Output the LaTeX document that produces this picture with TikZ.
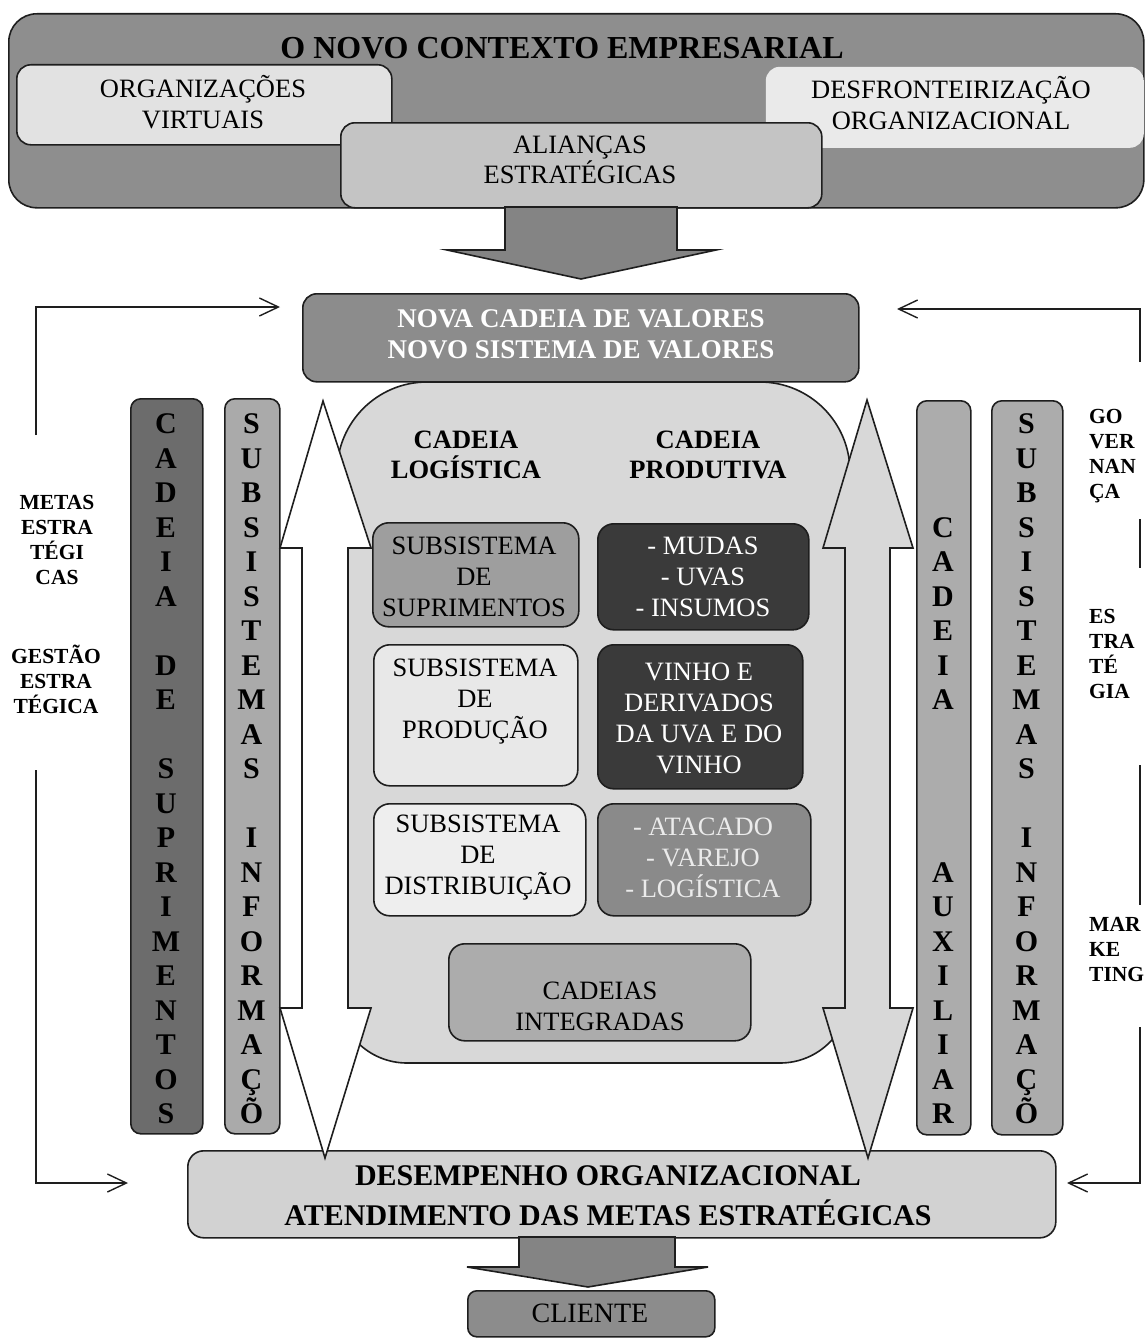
\documentclass[tikz,border=0pt]{standalone}
\usepackage{fontspec}
\setmainfont{Liberation Serif}
\usetikzlibrary{arrows.meta}

\definecolor{topgray}{RGB}{142,142,142}
\definecolor{orgfill}{RGB}{226,226,226}
\definecolor{desffill}{RGB}{234,234,234}
\definecolor{aliafill}{RGB}{196,196,196}
\definecolor{arrowfill}{RGB}{132,132,132}
\definecolor{novafill}{RGB}{140,140,140}
\definecolor{supcol}{RGB}{108,108,108}
\definecolor{infcol}{RGB}{170,170,170}
\definecolor{auxcol}{RGB}{172,172,172}
\definecolor{regionfill}{RGB}{216,216,216}
\definecolor{supfill}{RGB}{158,158,158}
\definecolor{darkfill}{RGB}{58,58,58}
\definecolor{prodfill}{RGB}{232,232,232}
\definecolor{distfill}{RGB}{238,238,238}
\definecolor{atacfill}{RGB}{138,138,138}
\definecolor{integfill}{RGB}{172,172,172}
\definecolor{despfill}{RGB}{210,210,210}
\definecolor{clifill}{RGB}{140,140,140}
\definecolor{edge}{RGB}{30,30,30}

\tikzset{
  panel/.style={draw=edge, line width=1.6pt, rounded corners=#1, anchor=north west, inner sep=0pt},
  panel/.default=12pt,
  txt/.style={align=center, inner sep=0pt, font=\fontsize{26.5}{30.5}\selectfont},
  boxtxt/.style={align=center, inner sep=0pt, font=\fontsize{26.5}{31}\selectfont},
  boldtxt/.style={align=center, inner sep=0pt, font=\fontsize{26.5}{29.5}\selectfont\bfseries},
  sidetxt/.style={inner sep=0pt, font=\fontsize{21.5}{25}\selectfont\bfseries},
  colletter/.style={anchor=base, inner sep=0pt, font=\fontsize{30}{30}\selectfont\bfseries},
  bigarrow/.style={draw=edge, line width=1.6pt, line join=miter},
  feedback/.style={draw=edge, line width=1.4pt},
  barb/.style={-{Straight Barb[length=19pt,width=18pt,line width=1.4pt]}},
}

\begin{document}
\begin{tikzpicture}[x=1pt,y=-1pt]
\useasboundingbox (0,0) rectangle (1146,1338);

% ---------- top block: the new business context ----------
\node[panel=28pt, fill=topgray, minimum width=1135pt, minimum height=194pt] (contexto) at (8,13) {};
\node[font=\fontsize{32}{32}\selectfont\bfseries, inner sep=0pt] (titulo) at (562,48) {O NOVO CONTEXTO EMPRESARIAL};

\node[panel=14pt, fill=orgfill, minimum width=375pt, minimum height=80pt] (orgbox) at (16,64) {};
\node[txt] (orgtxt) at (203,102) {ORGANIZAÇÕES\\VIRTUAIS};

\node[panel=14pt, draw=none, fill=desffill, minimum width=378pt, minimum height=81pt] (desfbox) at (765,66) {};
\node[txt] (desftxt) at (951,103) {DESFRONTEIRIZAÇÃO\\ORGANIZACIONAL};

\node[panel=14pt, fill=aliafill, minimum width=481pt, minimum height=85pt] (aliabox) at (340,122) {};
\node[txt] (aliatxt) at (580,160) {ALIANÇAS\\ESTRATÉGICAS};

% arrow into the new value chain
\draw[bigarrow, fill=arrowfill] (505,207) -- (677,207) -- (677,250) -- (716,250) -- (581,279)
  -- (447,250) -- (505,250) -- cycle;

\node[panel=14pt, fill=novafill, minimum width=556pt, minimum height=88pt] (nova) at (302,293) {};
\node[align=center, inner sep=0pt, text=white, font=\fontsize{27}{31}\selectfont\bfseries] (novatxt) at (581,334)
  {NOVA CADEIA DE VALORES\\NOVO SISTEMA DE VALORES};

% ---------- feedback loops ----------
\coordinate (lTop) at (36,435);
\coordinate (lCorner) at (36,307);
\coordinate (lEnd) at (280,307);
\coordinate (lBot) at (36,770);
\coordinate (lCorner2) at (36,1183);
\coordinate (lEnd2) at (128,1183);
\draw[feedback, barb] (lTop) -- (lCorner) -- (lEnd);
\draw[feedback, barb] (lBot) -- (lCorner2) -- (lEnd2);

\coordinate (rTop) at (1140,362);
\coordinate (rCorner) at (1140,309);
\coordinate (rEnd) at (897,309);
\coordinate (rS1a) at (1140,519);
\coordinate (rS1b) at (1140,568);
\coordinate (rS2a) at (1140,765);
\coordinate (rS2b) at (1140,905);
\coordinate (rBot) at (1140,1027);
\coordinate (rCorner2) at (1140,1183);
\coordinate (rEnd2) at (1067,1183);
\draw[feedback, barb] (rTop) -- (rCorner) -- (rEnd);
\draw[feedback] (rS1a) -- (rS1b);
\draw[feedback] (rS2a) -- (rS2b);
\draw[feedback, barb] (rBot) -- (rCorner2) -- (rEnd2);

\node[sidetxt, align=center] (metas) at (57,540) {METAS\\ESTRA\\TÉGI\\CAS};
\node[sidetxt, align=center] (gestao) at (56,679) {GESTÃO\\ESTRA\\TÉGICA};
\node[sidetxt, align=left, anchor=west] (gov) at (1089,456) {GO\\VER\\NAN\\ÇA};
\node[sidetxt, align=left, anchor=west] (estr) at (1089,654) {ES\\TRA\\TÉ\\GIA};
\node[sidetxt, align=left, anchor=west] (mkt) at (1089,949) {MAR\\KE\\TING};

% ---------- vertical columns ----------
\node[panel=10pt, fill=supcol, minimum width=72pt, minimum height=735pt] (colsup) at (130,398) {};
\node[panel=10pt, fill=infcol, minimum width=55pt, minimum height=735pt] (colinfL) at (224,398) {};
\node[panel=10pt, fill=auxcol, minimum width=54pt, minimum height=734pt] (colaux) at (916,400) {};
\node[panel=10pt, fill=auxcol, minimum width=71pt, minimum height=734pt] (colinfR) at (991,400) {};

\foreach \ch [count=\i from 0] in {C,A,D,E,I,A,{},D,E,{},S,U,P,R,I,M,E,N,T,O,S}
  \node[colletter] (sup-\i) at (166,{424+34.5*\i+9.9}) {\ch};
\foreach \ch [count=\i from 0] in {S,U,B,S,I,S,T,E,M,A,S,{},I,N,F,O,R,M,A,Ç,Õ}
  \node[colletter] (infL-\i) at (251.5,{424+34.5*\i+9.9}) {\ch};
\foreach \ch [count=\i from 0] in {{},{},{},C,A,D,E,I,A,{},{},{},{},A,U,X,I,L,I,A,R}
  \node[colletter] (aux-\i) at (943,{424+34.5*\i+9.9}) {\ch};
\foreach \ch [count=\i from 0] in {S,U,B,S,I,S,T,E,M,A,S,{},I,N,F,O,R,M,A,Ç,Õ}
  \node[colletter] (infR-\i) at (1026.5,{424+34.5*\i+9.9}) {\ch};

% ---------- central region ----------
\draw[draw=edge, line width=1.6pt, fill=regionfill]
  (337,993) -- (337,472) arc[start angle=180, end angle=90, radius=90pt]
  -- (760,382) arc[start angle=90, end angle=0, radius=90pt]
  -- (850,993) arc[start angle=0, end angle=-90, radius=70pt]
  -- (407,1063) arc[start angle=270, end angle=180, radius=70pt] -- cycle;

\node[panel=16pt, fill=despfill, minimum width=868pt, minimum height=87pt] (desemp) at (187,1150) {};
\node[align=center, inner sep=0pt, font=\fontsize{30}{40}\selectfont\bfseries] (desemptxt) at (608,1196)
  {DESEMPENHO ORGANIZACIONAL\\ATENDIMENTO DAS METAS ESTRATÉGICAS};

% double-headed flow arrows
\draw[bigarrow, fill=white] (323,401) -- (371,548) -- (348,548) -- (348,1008) -- (371,1008)
  -- (325,1158) -- (280,1008) -- (302,1008) -- (302,548) -- (280,548) -- cycle;
\draw[bigarrow, fill=regionfill] (867,400) -- (913,548) -- (890,548) -- (890,1008) -- (913,1008)
  -- (868,1158) -- (823,1008) -- (845,1008) -- (845,548) -- (823,548) -- cycle;

\node[boldtxt] (logist) at (466,455) {CADEIA\\LOGÍSTICA};
\node[boldtxt] (produt) at (708,455) {CADEIA\\PRODUTIVA};

\node[panel=16pt, fill=supfill, minimum width=206pt, minimum height=104pt] (supbox) at (372,522) {};
\node[boxtxt] (suptxt) at (474,577) {SUBSISTEMA\\DE\\SUPRIMENTOS};

\node[panel=16pt, fill=darkfill, minimum width=211pt, minimum height=106pt] (mudbox) at (597,523) {};
\node[boxtxt, text=white] (mudtxt) at (703,577) {- MUDAS\\- UVAS\\- INSUMOS};

\node[panel=16pt, fill=prodfill, minimum width=204pt, minimum height=141pt] (prodbox) at (373,644) {};
\node[boxtxt] (prodtxt) at (475,702) {SUBSISTEMA\\DE\\PRODUÇÃO};

\node[panel=16pt, fill=darkfill, minimum width=205pt, minimum height=144pt] (vinbox) at (597,644) {};
\node[boxtxt, text=white] (vintxt) at (699,718) {VINHO E\\DERIVADOS\\DA UVA E DO\\VINHO};

\node[panel=16pt, fill=distfill, minimum width=212pt, minimum height=112pt] (distbox) at (373,803) {};
\node[boxtxt] (disttxt) at (478,858) {SUBSISTEMA\\DE\\DISTRIBUIÇÃO};

\node[panel=16pt, fill=atacfill, minimum width=213pt, minimum height=112pt] (atacbox) at (597,803) {};
\node[boxtxt, text=white!92!black] (atactxt) at (703,858) {- ATACADO\\- VAREJO\\- LOGÍSTICA};

\node[panel=16pt, fill=integfill, minimum width=302pt, minimum height=97pt] (integbox) at (448,943) {};
\node[boxtxt] (integtxt) at (600,1006) {CADEIAS\\INTEGRADAS};

% ---------- output to the customer ----------
\draw[bigarrow, fill=arrowfill] (519,1237) -- (675,1237) -- (675,1267) -- (708,1267) -- (588,1287)
  -- (467,1267) -- (519,1267) -- cycle;
\node[panel=9pt, fill=clifill, minimum width=247pt, minimum height=46pt] (cliente) at (467,1290) {};
\node[inner sep=0pt, font=\fontsize{28}{28}\selectfont] (clitxt) at (590,1313) {CLIENTE};

\end{tikzpicture}
\end{document}
